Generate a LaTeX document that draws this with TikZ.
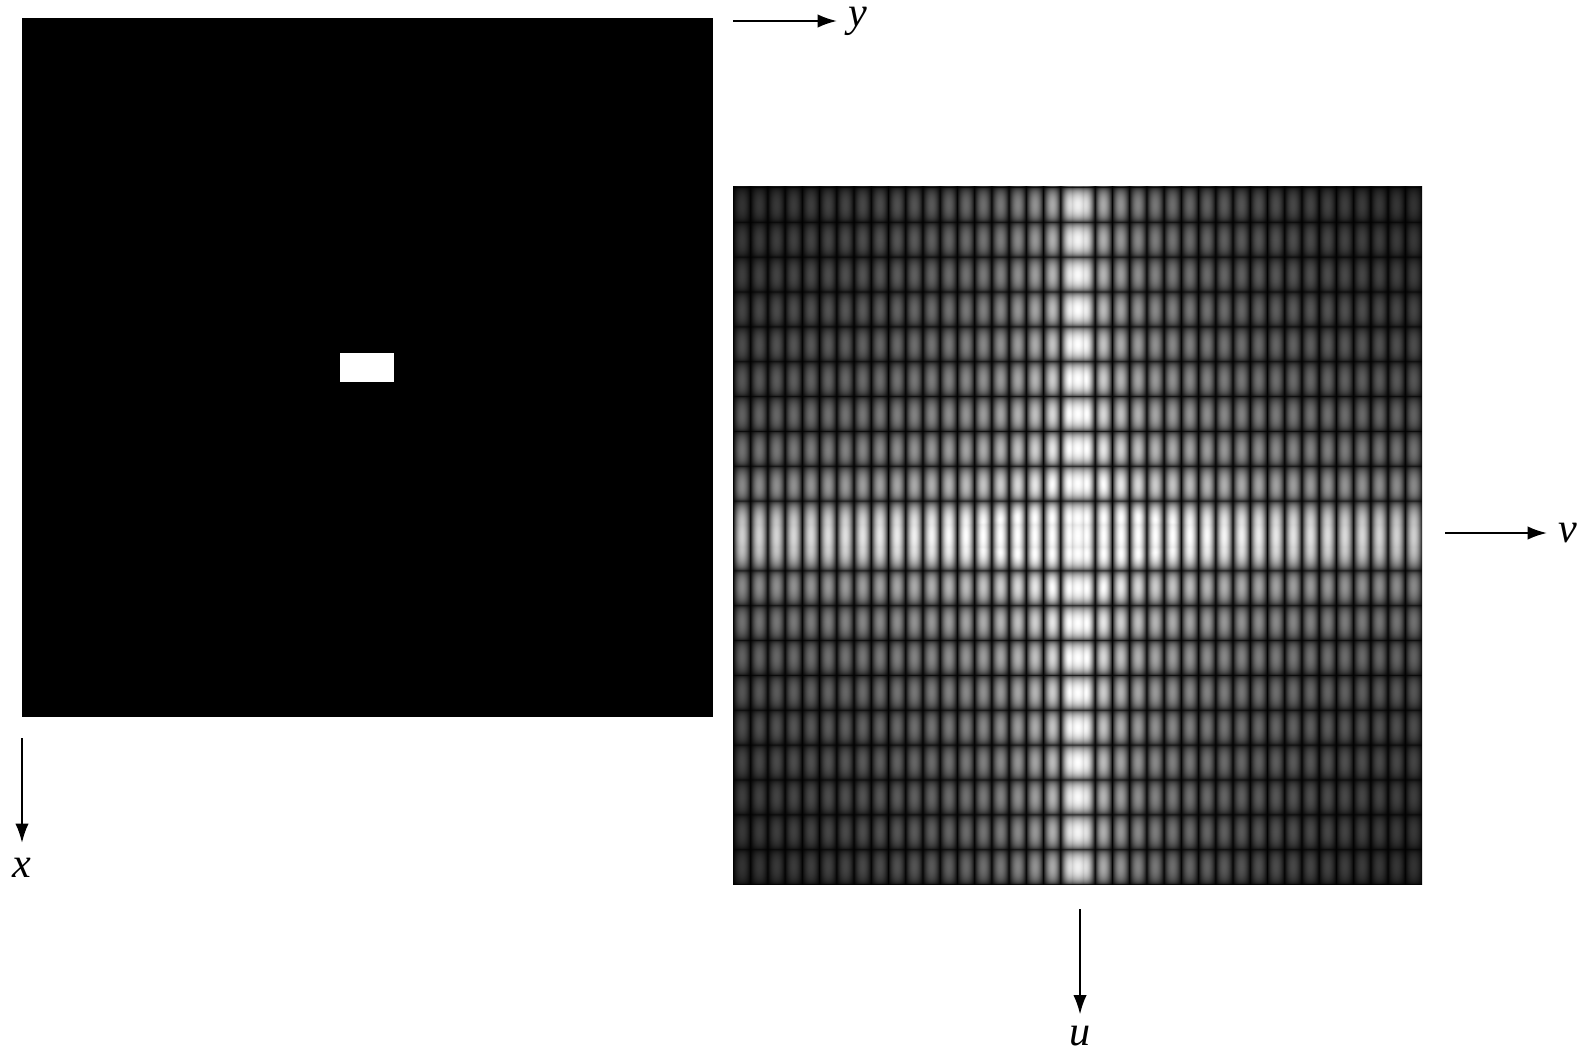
\documentclass[tikz,border=0pt]{standalone}
\usepackage{fontspec}
\setmainfont{Liberation Serif}
\usepackage{tikz}
\usetikzlibrary{arrows.meta}

% spectrum of the box: log |sinc(u)| + log |sinc(v)|, lobes shaped by |sin|
\pgfdeclarefunctionalshading{sincspec}{\pgfpoint{-50bp}{-50bp}}{\pgfpoint{50bp}{50bp}}{}{
  exch
  0.0011 add dup 144 mul sin abs exch 2.5133 mul abs dup 1 le {div 1} if
  exch 0.75 exp exch
  3 -1 roll
  0.0013 add dup 72 mul sin abs exch 1.2566 mul abs dup 1 le {div 1} if
  exch 0.4 exp exch
  3 -1 roll
  mul ln -0.18 mul 1.55 add
  dup 0 lt {pop 0} if dup 1 gt {pop 1} if
  mul mul
  dup dup
}

\begin{document}
\begin{tikzpicture}[x=0.1mm, y=-0.1mm, >={Latex[length=5.5pt,width=3.8pt]},
  axis/.style={->, line width=0.6pt},
  lab/.style={font=\large\itshape, inner xsep=3pt, inner ysep=0pt}]
\useasboundingbox (0,0) rectangle (1578,1050);
% box image and its spectrum
\fill[black] (22,18) rectangle (713,717);
\fill[white] (340,353) rectangle (394,382);
\shade[shading=sincspec] (733,187) rectangle (1422,884);
% axes
\coordinate (ys) at (733,21);
\coordinate (xs) at (22,738);
\coordinate (vs) at (1445,533);
\coordinate (us) at (1080,909);
\node[lab, anchor=west]  (ylab) at (837,21)   {y};
\node[lab, anchor=north] (xlab) at (22,857)   {x};
\node[lab, anchor=west]  (vlab) at (1547,533) {v};
\node[lab, anchor=north] (ulab) at (1080,1025) {u};
\draw[axis] (ys) -- (ylab.west);
\draw[axis, shorten >=4pt] (xs) -- (xlab.north);
\draw[axis] (vs) -- (vlab.west);
\draw[axis, shorten >=3pt] (us) -- (ulab.north);
\end{tikzpicture}
\end{document}
